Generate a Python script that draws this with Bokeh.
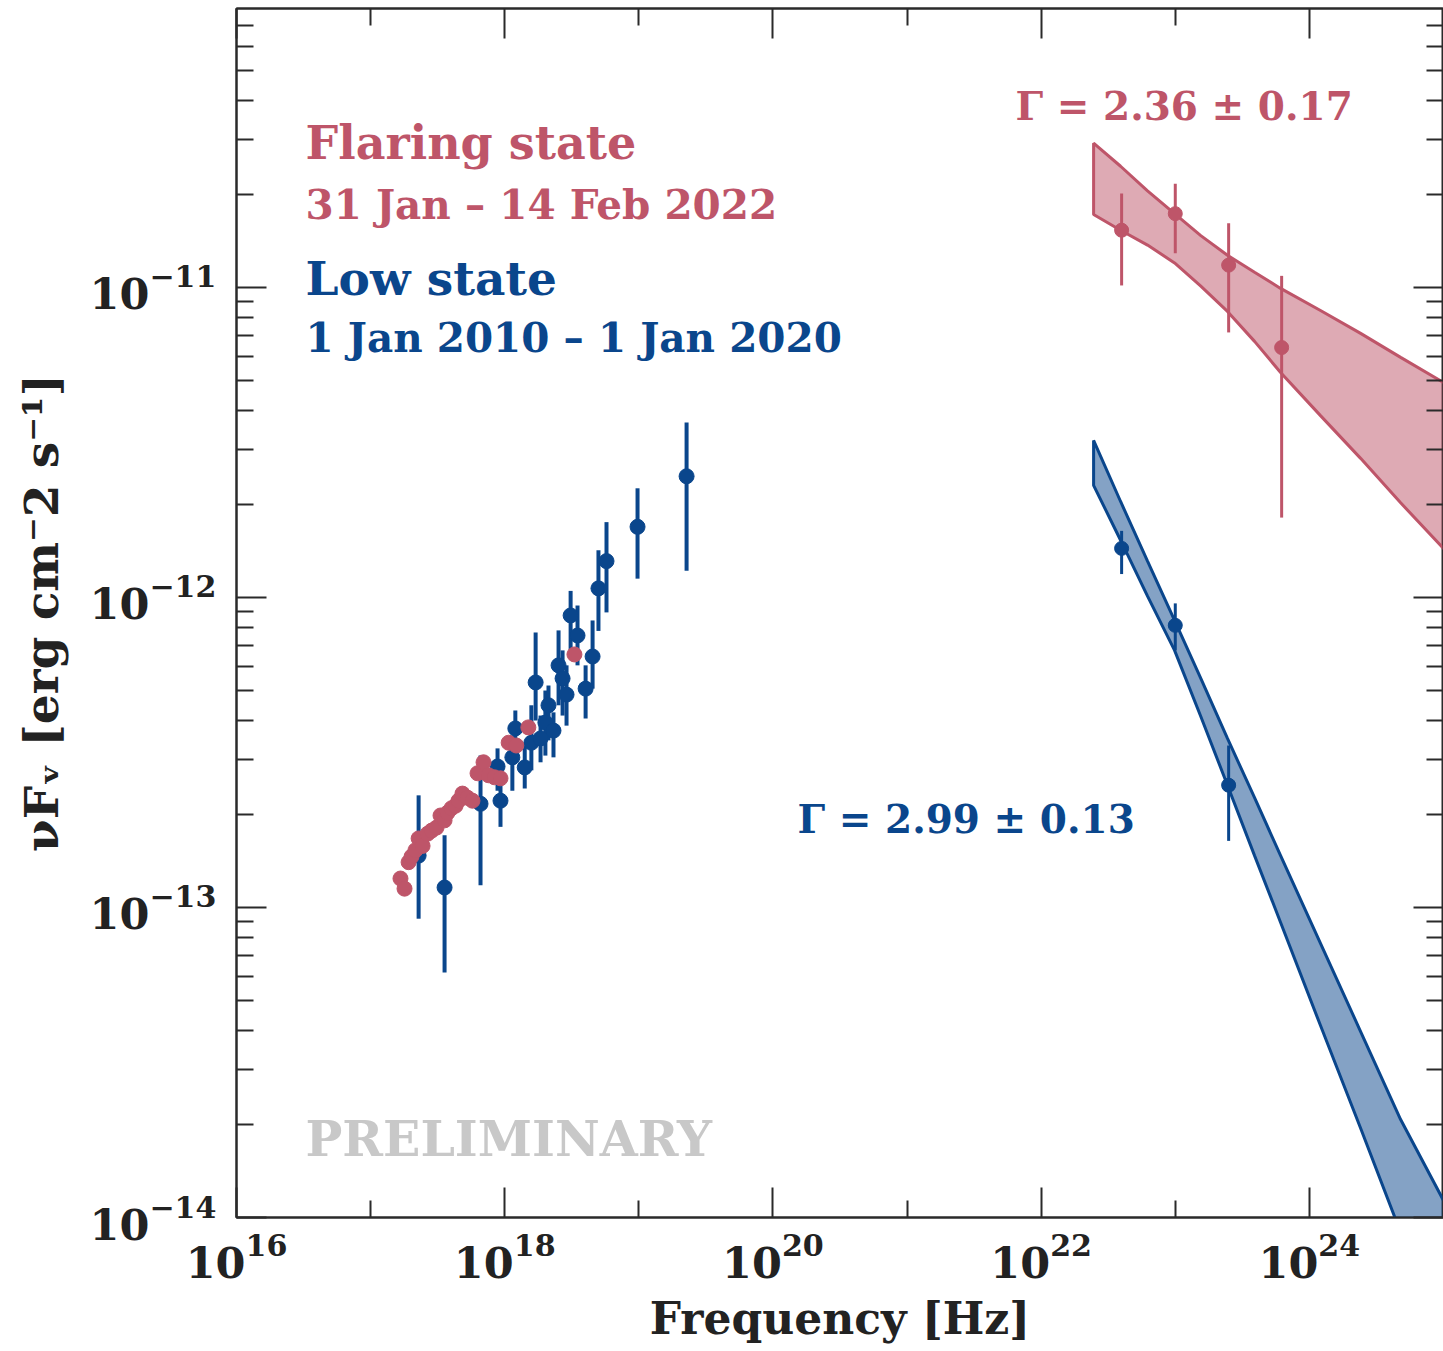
from bokeh.plotting import figure
from bokeh.models import LogAxis, FixedTicker, Label
from bokeh.embed import file_html
from bokeh.resources import INLINE

RED = "#BE5569"
BLUE = "#0A468C"
AX = "#2a2a2a"
FONT = "DejaVu Serif"

# ---- Low state, X-ray (frequency [Hz], nuFnu, lower, upper) ----
low_x_freq = [2.28e17, 3.56e17, 6.6e17, 8.84e17, 9.3e17, 1.14e18, 1.20e18, 1.41e18, 1.58e18,
              1.70e18, 1.85e18, 2.01e18, 2.12e18, 2.31e18, 2.52e18, 2.70e18, 2.89e18, 3.10e18,
              3.49e18, 4.01e18, 4.52e18, 5.0e18, 5.74e18, 9.78e18, 2.27e19]
low_x_flux = [1.47e-13, 1.16e-13, 2.16e-13, 2.85e-13, 2.21e-13, 3.05e-13, 3.78e-13, 2.83e-13, 3.40e-13,
              5.32e-13, 3.51e-13, 3.95e-13, 4.49e-13, 3.72e-13, 6.04e-13, 5.48e-13, 4.86e-13, 8.75e-13,
              7.54e-13, 5.08e-13, 6.45e-13, 1.07e-12, 1.31e-12, 1.69e-12, 2.46e-12]
low_x_lo = [9.2e-14, 6.17e-14, 1.18e-13, 2.38e-13, 1.82e-13, 2.38e-13, 2.98e-13, 2.42e-13, 2.77e-13,
            4.01e-13, 2.94e-13, 3.09e-13, 3.46e-13, 3.05e-13, 4.49e-13, 4.16e-13, 3.86e-13, 6.75e-13,
            6.04e-13, 4.07e-13, 5.08e-13, 7.8e-13, 8.95e-13, 1.15e-12, 1.22e-12]
low_x_hi = [2.30e-13, 1.71e-13, 3.09e-13, 3.26e-13, 2.61e-13, 3.59e-13, 4.32e-13, 3.40e-13, 4.49e-13,
            7.71e-13, 4.16e-13, 5.01e-13, 5.20e-13, 4.26e-13, 7.83e-13, 6.75e-13, 6.04e-13, 1.05e-12,
            9.42e-13, 6.04e-13, 8.43e-13, 1.42e-12, 1.75e-12, 2.25e-12, 3.67e-12]

# ---- Flaring state, X-ray ----
flare_x_freq = [1.67e17, 1.79e17, 1.92e17, 2.02e17, 2.16e17, 2.28e17, 2.44e17, 2.66e17, 2.85e17,
                3.10e17, 3.32e17, 3.56e17, 3.74e17, 4.01e17, 4.30e17, 4.52e17, 4.84e17, 5.28e17,
                5.75e17, 6.27e17, 6.95e17, 7.57e17, 8.39e17, 9.3e17, 1.07e18, 1.22e18, 1.50e18, 3.31e18]
flare_x_flux = [1.24e-13, 1.15e-13, 1.40e-13, 1.46e-13, 1.53e-13, 1.67e-13, 1.58e-13, 1.73e-13, 1.77e-13,
                1.81e-13, 1.98e-13, 1.91e-13, 2.02e-13, 2.09e-13, 2.13e-13, 2.21e-13, 2.33e-13, 2.26e-13,
                2.21e-13, 2.71e-13, 2.94e-13, 2.67e-13, 2.63e-13, 2.61e-13, 3.40e-13, 3.33e-13, 3.81e-13, 6.55e-13]

# ---- Gamma-ray points ----
gam_freq = [3.98e22, 1.00e23, 2.50e23, 6.21e23]
flare_g_flux = [1.53e-11, 1.73e-11, 1.18e-11, 6.40e-12]
flare_g_lo = [1.015e-11, 1.29e-11, 7.16e-12, 1.81e-12]
flare_g_hi = [2.01e-11, 2.16e-11, 1.61e-11, 1.09e-11]

low_g_freq = [3.98e22, 1.00e23, 2.50e23]
low_g_flux = [1.44e-12, 8.13e-13, 2.48e-13]
low_g_lo = [1.19e-12, 6.75e-13, 1.64e-13]
low_g_hi = [1.64e-12, 9.57e-13, 3.33e-13]

# ---- Power-law butterflies ----
band_freq = [2.46e22, 3.91e22, 6.21e22, 9.88e22, 1.55e23, 2.45e23, 3.90e23, 6.10e23,
             1.21e24, 2.41e24, 4.79e24, 1.0e25, 1.3e25]
flare_band_hi = [2.92e-11, 2.46e-11, 2.05e-11, 1.73e-11, 1.47e-11, 1.27e-11, 1.12e-11, 9.93e-12,
                 8.43e-12, 7.11e-12, 5.95e-12, 4.94e-12, 4.65e-12]
flare_band_lo = [1.72e-11, 1.53e-11, 1.37e-11, 1.20e-11, 1.01e-11, 8.37e-12, 6.70e-12, 5.32e-12,
                 3.86e-12, 2.81e-12, 2.02e-12, 1.44e-12, 1.28e-12]
low_band_hi = [3.21e-12, 2.04e-12, 1.31e-12, 8.43e-13, 5.48e-13, 3.51e-13, 2.26e-13, 1.47e-13,
               7.66e-14, 3.98e-14, 2.07e-14, 1.135e-14, 8.95e-15]
low_band_lo = [2.30e-12, 1.53e-12, 1.01e-12, 6.75e-13, 4.13e-13, 2.48e-13, 1.47e-13, 8.95e-14,
               4.16e-14, 1.94e-14, 8.95e-15, 3.87e-15, 2.89e-15]

x_major = [1e16, 1e18, 1e20, 1e22, 1e24]
x_minor = [1e17, 1e19, 1e21, 1e23, 1e25]
y_major = [1e-14, 1e-13, 1e-12, 1e-11]
y_minor = [m * 10.0 ** e for e in range(-14, -10) for m in range(2, 10)]

p = figure(width=1443, height=1351, x_axis_type="log", y_axis_type="log",
           x_range=(1e16, 1e25), y_range=(1e-14, 7.94e-11),
           output_backend="svg", toolbar_location=None,
           min_border_left=236, min_border_right=0, min_border_top=8, min_border_bottom=134)
p.xgrid.visible = False
p.ygrid.visible = False
p.outline_line_color = AX
p.outline_line_width = 2
p.background_fill_color = "white"


def style_axis(ax, major, minor, show_labels):
    ax.ticker = FixedTicker(ticks=major, minor_ticks=minor)
    ax.axis_line_color = AX
    ax.axis_line_width = 2
    ax.major_tick_line_color = AX
    ax.minor_tick_line_color = AX
    ax.major_tick_line_width = 2
    ax.minor_tick_line_width = 2
    ax.major_tick_in = 30
    ax.major_tick_out = 0
    ax.minor_tick_in = 17
    ax.minor_tick_out = 0
    ax.major_label_text_font = FONT
    ax.major_label_text_font_style = "bold"
    ax.axis_label_text_font = FONT
    ax.axis_label_text_font_style = "bold"
    if show_labels:
        ax.major_label_text_font_size = "43px"
        ax.major_label_text_color = "#222222"
        ax.axis_label_text_font_size = "44px"
        ax.axis_label_text_color = "#222222"
    else:
        ax.major_label_text_font_size = "1px"
        ax.major_label_text_alpha = 0
        ax.major_label_standoff = 0


xb = p.xaxis[0]
yl = p.yaxis[0]
style_axis(xb, x_major, x_minor, True)
style_axis(yl, y_major, y_minor, True)
xb.axis_label = "Frequency [Hz]"
xb.major_label_standoff = 16
xb.axis_label_standoff = 12
yl.axis_label = "\u03bdF\u1d65 [erg cm\u207b2 s\u207b\u00b9]"
yl.axis_label_text_font_size = "47px"
yl.major_label_standoff = 20
yl.axis_label_standoff = 18

top = LogAxis()
style_axis(top, x_major, x_minor, False)
p.add_layout(top, "above")
right = LogAxis()
style_axis(right, y_major, y_minor, False)
p.add_layout(right, "right")

# butterflies
p.patch(band_freq + band_freq[::-1], flare_band_hi + flare_band_lo[::-1],
        fill_color=RED, fill_alpha=0.5, line_color=RED, line_width=3)
p.patch(band_freq + band_freq[::-1], low_band_hi + low_band_lo[::-1],
        fill_color=BLUE, fill_alpha=0.5, line_color=BLUE, line_width=3)

# gamma-ray points
p.segment(x0=gam_freq, y0=flare_g_lo, x1=gam_freq, y1=flare_g_hi, line_color=RED, line_width=3)
p.scatter(gam_freq, flare_g_flux, size=14, color=RED)
p.segment(x0=low_g_freq, y0=low_g_lo, x1=low_g_freq, y1=low_g_hi, line_color=BLUE, line_width=3)
p.scatter(low_g_freq, low_g_flux, size=14, color=BLUE)

# X-ray points
p.segment(x0=low_x_freq, y0=low_x_lo, x1=low_x_freq, y1=low_x_hi, line_color=BLUE, line_width=4)
p.scatter(low_x_freq, low_x_flux, size=15, color=BLUE)
p.scatter(flare_x_freq, flare_x_flux, size=15, color=RED)

# text annotations (screen units relative to the frame's bottom-left)
FB = 1217  # frame bottom in page pixels
FL = 236


def add_text(txt, left, baseline, size, color):
    p.add_layout(Label(x=left - FL, y=FB - baseline, x_units="screen", y_units="screen",
                       text=txt, text_font=FONT, text_font_style="bold",
                       text_font_size=size, text_color=color,
                       text_align="left", text_baseline="alphabetic"))


add_text("Flaring state", 305, 142, "46px", RED)
add_text("31 Jan \u2013 14 Feb 2022", 305, 204, "40.5px", RED)
add_text("Low state", 305, 278, "47px", BLUE)
add_text("1 Jan 2010 \u2013 1 Jan 2020", 305, 337, "40.5px", BLUE)
add_text("\u0393 = 2.36 \u00b1 0.17", 1015, 105, "39px", RED)
add_text("\u0393 = 2.99 \u00b1 0.13", 797, 818, "39px", BLUE)
add_text("PRELIMINARY", 305, 1138, "49px", "#C8C8C8")

open("out.html", "w").write(file_html(p, INLINE))
